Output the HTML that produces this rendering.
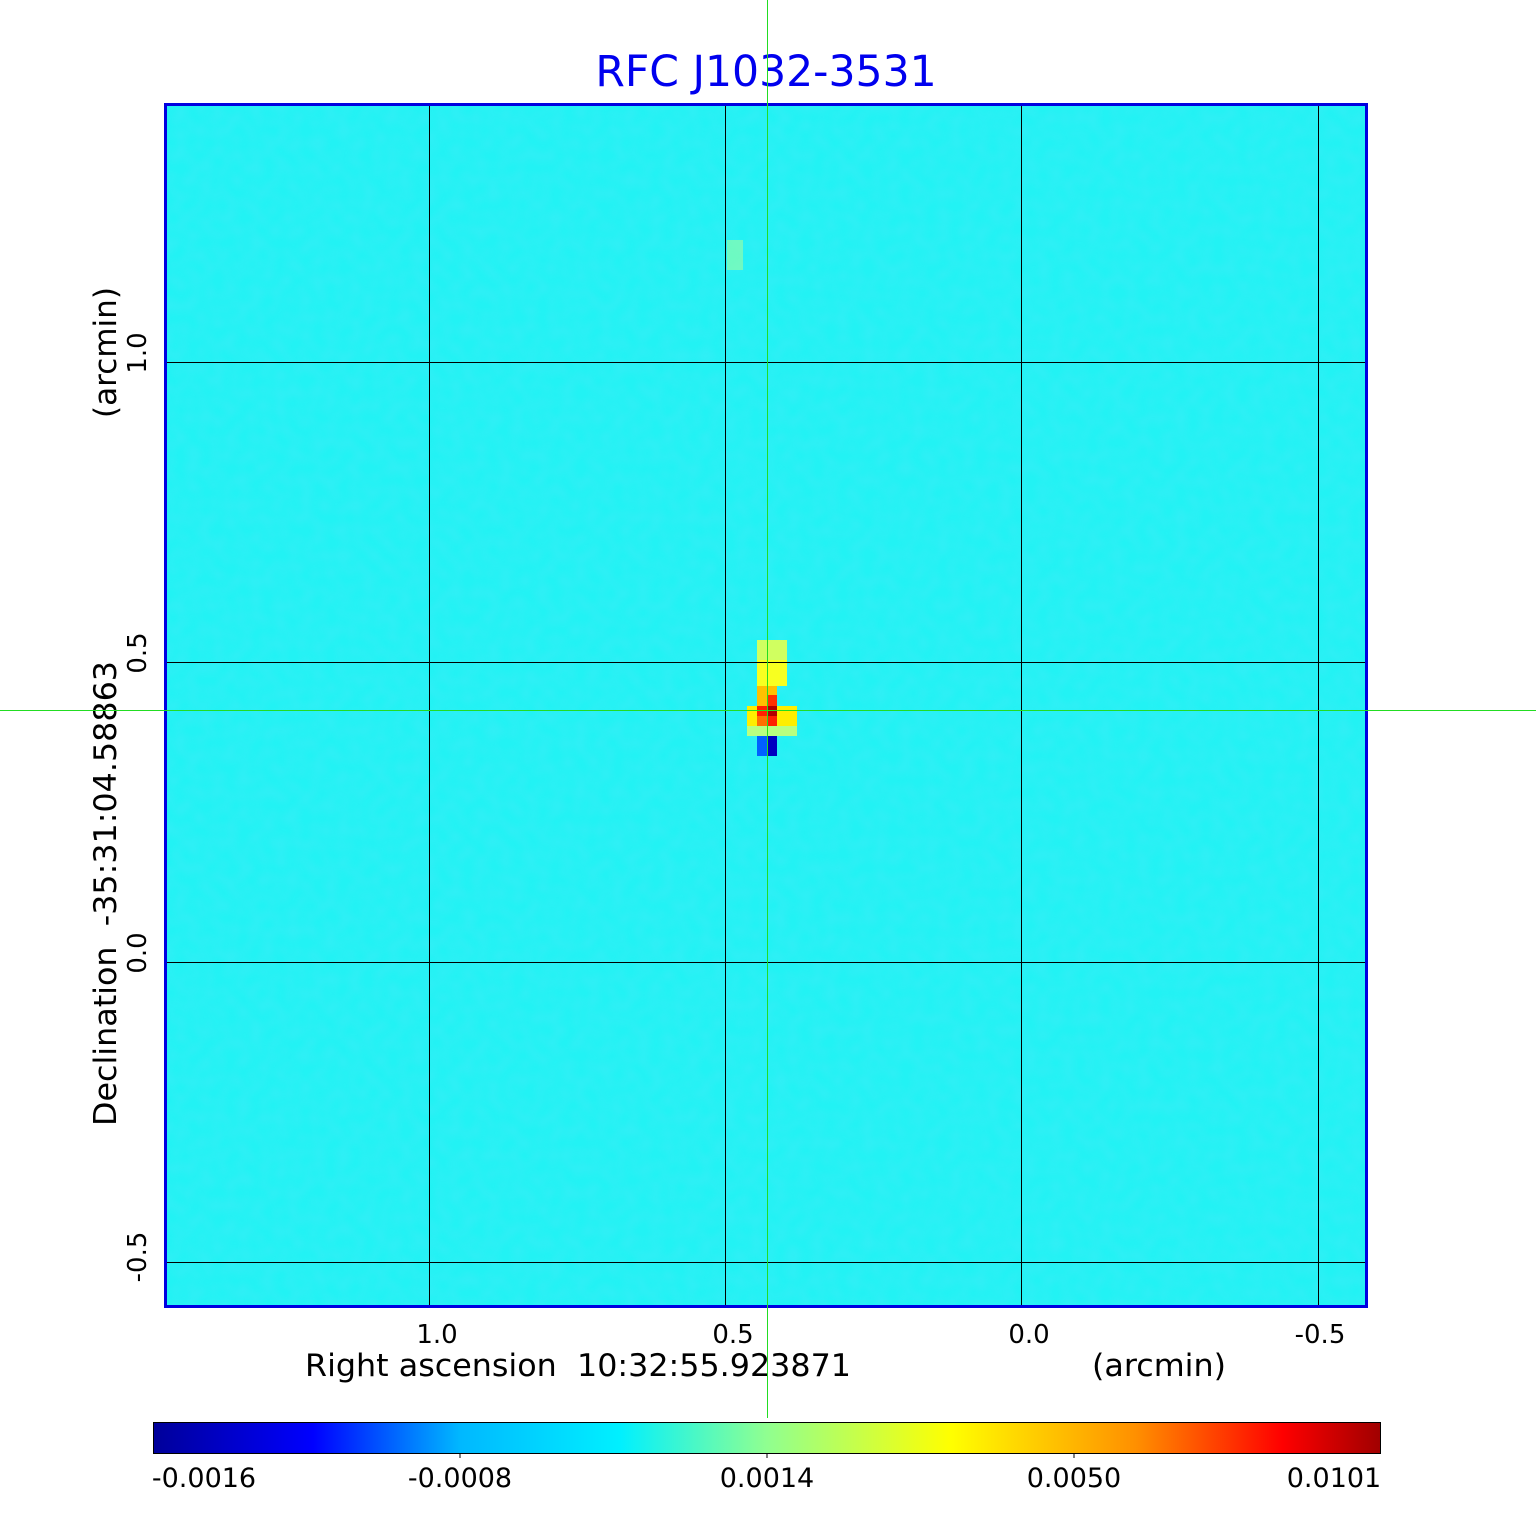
<!DOCTYPE html>
<html><head><meta charset="utf-8"><style>
body{margin:0;background:#fff;}
svg text{font-family:"DejaVu Sans","Liberation Sans",sans-serif;}
</style></head><body>
<svg width="1536" height="1511" viewBox="0 0 1536 1511" xmlns="http://www.w3.org/2000/svg">
<defs>
<linearGradient id="jet" x1="0" x2="1" y1="0" y2="0">
<stop offset="0" stop-color="#00009a"/>
<stop offset="0.13" stop-color="#0000ff"/>
<stop offset="0.25" stop-color="#00b8ff"/>
<stop offset="0.38" stop-color="#00f0ff"/>
<stop offset="0.5" stop-color="#90ff90"/>
<stop offset="0.65" stop-color="#ffff00"/>
<stop offset="0.8" stop-color="#ff9000"/>
<stop offset="0.92" stop-color="#ff0000"/>
<stop offset="1" stop-color="#a00000"/>
</linearGradient>
<filter id="n" x="0" y="0" width="100%" height="100%">
<feTurbulence type="fractalNoise" baseFrequency="0.08" numOctaves="1" seed="3"/>
<feColorMatrix values="0 0 0 0 0.1  0 0 0 0 0.8  0 0 0 0 0.95  0 0 0 0.6 -0.15"/>
</filter>
</defs>
<text x="766" y="86" font-size="42.5" fill="#0000ee" text-anchor="middle">RFC J1032-3531</text>
<rect x="165" y="104" width="1202" height="1203" fill="#22f2f4"/>
<rect x="165" y="104" width="1202" height="1203" filter="url(#n)" opacity="0.7"/>
<rect x="757" y="640" width="30" height="20" fill="#d0ff60"/>
<rect x="757" y="660" width="30" height="26" fill="#f8ff20"/>
<rect x="747" y="706" width="50" height="20" fill="#ffee00"/>
<rect x="747" y="726" width="50" height="10" fill="#b8ff80"/>
<rect x="757" y="686" width="20" height="20" fill="#ffc000"/>
<rect x="767" y="695" width="10" height="11" fill="#ff3000"/>
<rect x="757" y="706" width="10" height="10" fill="#ff2000"/>
<rect x="767" y="706" width="10" height="10" fill="#b00000"/>
<rect x="757" y="716" width="10" height="10" fill="#ff7000"/>
<rect x="767" y="716" width="10" height="10" fill="#ff2000"/>
<rect x="757" y="736" width="10" height="20" fill="#0060ff"/>
<rect x="767" y="736" width="10" height="20" fill="#0000c0"/>
<rect x="727" y="240" width="16" height="30" fill="#a0ffa0" opacity="0.6"/>
<g stroke="#000" stroke-width="1" shape-rendering="crispEdges">
<line x1="429.5" y1="104" x2="429.5" y2="1307"/><line x1="725.5" y1="104" x2="725.5" y2="1307"/>
<line x1="1021.5" y1="104" x2="1021.5" y2="1307"/><line x1="1318.5" y1="104" x2="1318.5" y2="1307"/>
<line x1="165" y1="362.5" x2="1367" y2="362.5"/><line x1="165" y1="662.5" x2="1367" y2="662.5"/>
<line x1="165" y1="962.5" x2="1367" y2="962.5"/><line x1="165" y1="1262.5" x2="1367" y2="1262.5"/>
</g>
<rect x="165.5" y="104.5" width="1201" height="1202" fill="none" stroke="#0000e0" stroke-width="3"/>
<g font-size="26" fill="#000" text-anchor="middle">
<text x="437" y="1343">1.0</text><text x="733" y="1343">0.5</text>
<text x="1029" y="1343">0.0</text><text x="1320" y="1343">-0.5</text>
</g>
<text x="305" y="1376" font-size="31" textLength="546" lengthAdjust="spacingAndGlyphs" xml:space="preserve">Right ascension  10:32:55.923871</text>
<text x="1092" y="1376" font-size="31" textLength="134" lengthAdjust="spacingAndGlyphs">(arcmin)</text>
<g font-size="26" text-anchor="middle">
<text transform="translate(146,353) rotate(-90)">1.0</text>
<text transform="translate(146,653) rotate(-90)">0.5</text>
<text transform="translate(146,953) rotate(-90)">0.0</text>
<text transform="translate(146,1257) rotate(-90)">-0.5</text>
</g>
<text transform="translate(116,1126) rotate(-90)" font-size="31" textLength="465" lengthAdjust="spacingAndGlyphs" xml:space="preserve">Declination  -35:31:04.58863</text>
<text transform="translate(116,418) rotate(-90)" font-size="31" textLength="131" lengthAdjust="spacingAndGlyphs">(arcmin)</text>
<rect x="153.5" y="1422.5" width="1227" height="31" fill="url(#jet)" stroke="#000" stroke-width="1"/>
<g stroke="#000"><line x1="460" y1="1453" x2="460" y2="1458"/><line x1="767" y1="1453" x2="767" y2="1458"/><line x1="1074" y1="1453" x2="1074" y2="1458"/></g>
<g font-size="27" text-anchor="middle">
<text x="204" y="1487">-0.0016</text><text x="460" y="1487">-0.0008</text>
<text x="767" y="1487">0.0014</text><text x="1074" y="1487">0.0050</text><text x="1334" y="1487">0.0101</text>
</g>
<g fill="#22dd22">
<rect x="767" y="0" width="1" height="1418"/>
<rect x="0" y="710" width="1536" height="1"/>
</g>
</svg>
</body></html>
